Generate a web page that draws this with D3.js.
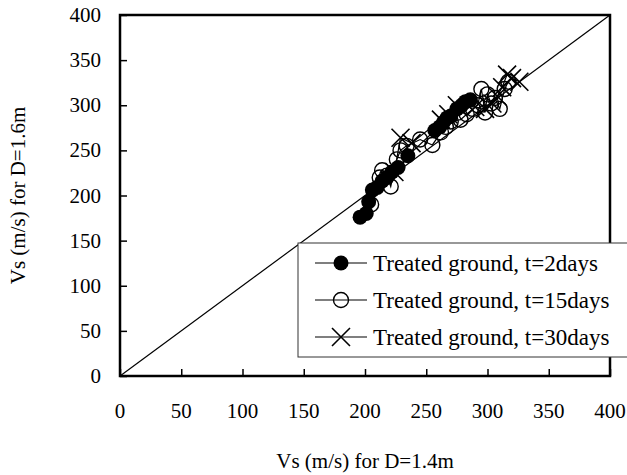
<!doctype html>
<html lang="en">
<head>
<meta charset="UTF-8" />
<title>Vs D=1.4m vs D=1.6m</title>
<script src="https://cdn.jsdelivr.net/npm/d3@7"></script>
<style>
  body { margin: 0; background: #fff; }
  text { font-family: "Liberation Serif", "Times New Roman", serif; fill: #000; }
</style>
</head>
<body>
<svg id="chart" width="627" height="475"></svg>
<script>
// Vs (m/s) at D=1.4m (x) against D=1.6m (y)
var x2days = [196, 201, 203, 206, 210, 214, 218, 222, 227, 235, 257, 261, 264, 267, 270, 275, 279, 282, 286];
var y2days = [176, 180, 193, 206, 209, 216, 220, 226, 231, 244, 272, 276, 281, 286, 288, 296, 300, 304, 306];

var x15days = [205, 212, 214, 218, 221, 226, 229, 234, 245, 255, 262, 266, 270, 278, 283, 288, 292, 295, 298, 300, 303, 306, 310, 314, 317];
var y15days = [190, 220, 228, 222, 210, 240, 250, 255, 262, 256, 270, 276, 282, 284, 290, 296, 300, 318, 292, 312, 302, 308, 296, 318, 326];

var x30days = [224, 229, 238, 262, 268, 275, 290, 298, 304, 308, 312, 316, 320, 326];
var y30days = [226, 264, 258, 284, 290, 300, 298, 296, 302, 310, 320, 334, 330, 326];

var ticks = [0, 50, 100, 150, 200, 250, 300, 350, 400];
var seriesNames = ["Treated ground, t=2days", "Treated ground, t=15days", "Treated ground, t=30days"];

var svg = d3.select("#chart");
var plotL = 120, plotR = 610, plotT = 15, plotB = 376;

var x = d3.scaleLinear().domain([0, 400]).range([plotL, plotR]);
var y = d3.scaleLinear().domain([0, 400]).range([plotB, plotT]);

function zip(xs, ys) { return xs.map(function (v, i) { return { x: v, y: ys[i] }; }); }
var series = [
  { name: seriesNames[0], data: zip(x2days, y2days), type: "filled" },
  { name: seriesNames[1], data: zip(x15days, y15days), type: "open" },
  { name: seriesNames[2], data: zip(x30days, y30days), type: "cross" }
];

// 1:1 line
svg.append("line")
  .attr("x1", x(0)).attr("y1", y(0))
  .attr("x2", x(400)).attr("y2", y(400))
  .attr("stroke", "#000").attr("stroke-width", 1.2);

// axes, ticks pointing inward
var yAxis = svg.append("g").attr("transform", "translate(" + plotL + ",0)")
  .call(d3.axisRight(y).tickValues(ticks).tickSize(7).tickFormat(""));
var xAxis = svg.append("g").attr("transform", "translate(0," + plotB + ")")
  .call(d3.axisTop(x).tickValues(ticks).tickSize(7).tickFormat(""));
[yAxis, xAxis].forEach(function (g) {
  g.select(".domain").remove();
  g.selectAll("line").attr("stroke", "#000").attr("stroke-width", 1.5);
});

svg.selectAll(".ylab").data(ticks).enter().append("text")
  .attr("x", plotL - 19).attr("y", function (d) { return y(d) + 7; })
  .attr("text-anchor", "end").attr("font-size", 21)
  .text(function (d) { return d; });
svg.selectAll(".xlab").data(ticks).enter().append("text")
  .attr("x", function (d) { return x(d); }).attr("y", plotB + 42)
  .attr("text-anchor", "middle").attr("font-size", 21)
  .text(function (d) { return d; });

var line = d3.line().x(function (d) { return x(d.x); }).y(function (d) { return y(d.y); });

function drawMarker(g, type) {
  if (type === "filled") {
    g.append("circle").attr("r", 7.5).attr("fill", "#000");
  } else if (type === "open") {
    g.append("circle").attr("r", 7.5).attr("fill", "none").attr("stroke", "#000").attr("stroke-width", 1.4);
  } else {
    g.append("path").attr("d", "M-9,-9L9,9M-9,9L9,-9").attr("stroke", "#000").attr("stroke-width", 1.6);
  }
}

series.forEach(function (s) {
  svg.append("path").attr("d", line(s.data))
    .attr("fill", "none").attr("stroke", "#000").attr("stroke-width", 1.2);
  s.data.forEach(function (d) {
    var g = svg.append("g").attr("transform", "translate(" + x(d.x) + "," + y(d.y) + ")");
    drawMarker(g, s.type);
  });
});

// frame
svg.append("rect")
  .attr("x", plotL).attr("y", plotT)
  .attr("width", plotR - plotL).attr("height", plotB - plotT)
  .attr("fill", "none").attr("stroke", "#000").attr("stroke-width", 2.5);

// legend
var legend = svg.append("g");
legend.append("rect")
  .attr("x", 298).attr("y", 243).attr("width", 340).attr("height", 114)
  .attr("fill", "#fff").attr("stroke", "#333").attr("stroke-width", 1);
series.forEach(function (s, i) {
  var cy = 263 + i * 37;
  legend.append("line").attr("x1", 315).attr("x2", 367).attr("y1", cy).attr("y2", cy)
    .attr("stroke", "#000").attr("stroke-width", 1.2);
  drawMarker(legend.append("g").attr("transform", "translate(341," + cy + ")"), s.type);
  legend.append("text").attr("x", 373).attr("y", cy + 8).attr("font-size", 23).text(s.name);
});

// axis titles
svg.append("text")
  .attr("x", (plotL + plotR) / 2).attr("y", 468)
  .attr("text-anchor", "middle").attr("font-size", 21)
  .text("Vs (m/s) for D=1.4m");
svg.append("text")
  .attr("transform", "translate(25," + (plotT + plotB) / 2 + ") rotate(-90)")
  .attr("text-anchor", "middle").attr("font-size", 21)
  .text("Vs (m/s) for D=1.6m");
</script>
</body>
</html>
